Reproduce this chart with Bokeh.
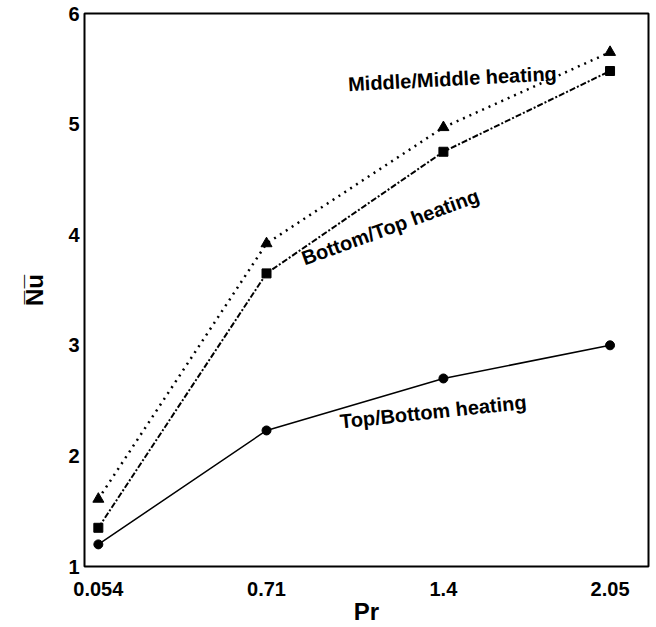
from bokeh.plotting import figure
from bokeh.models import FixedTicker, Label, Range1d
from bokeh.embed import file_html
from bokeh.resources import INLINE

# Data
pr = [0.054, 0.71, 1.4, 2.05]
pr_labels = ["0.054", "0.71", "1.4", "2.05"]
nu_top_bottom = [1.20, 2.23, 2.70, 3.00]
nu_bottom_top = [1.35, 3.65, 4.75, 5.48]
nu_middle_middle = [1.61, 3.92, 4.97, 5.65]
y_ticks = [1, 2, 3, 4, 5, 6]

FONT = "Liberation Sans"

p = figure(width=656, height=627, output_backend="svg", toolbar_location=None,
           x_range=Range1d(0, 2.2), y_range=Range1d(1, 6),
           min_border_left=84, min_border_right=8, min_border_top=13, min_border_bottom=61)

p.grid.visible = False
p.outline_line_color = "black"
p.outline_line_width = 2
p.background_fill_color = "white"
p.border_fill_color = "white"

# X axis
xa = p.xaxis[0]
xa.ticker = FixedTicker(ticks=pr)
xa.major_label_overrides = {v: s for v, s in zip(pr, pr_labels)}
xa.axis_line_color = None
xa.major_tick_line_color = None
xa.minor_tick_line_color = None
xa.major_tick_in = 0
xa.major_tick_out = 0
xa.major_label_standoff = 15
xa.major_label_text_font = FONT
xa.major_label_text_font_style = "bold"
xa.major_label_text_font_size = "20px"
xa.major_label_text_color = "black"
xa.axis_label = "Pr"
xa.axis_label_standoff = -1
xa.axis_label_text_font = FONT
xa.axis_label_text_font_style = "bold"
xa.axis_label_text_font_size = "24px"
xa.axis_label_text_color = "black"

# Y axis
ya = p.yaxis[0]
ya.ticker = FixedTicker(ticks=y_ticks)
ya.axis_line_color = None
ya.major_tick_line_color = None
ya.minor_tick_line_color = None
ya.major_tick_in = 0
ya.major_tick_out = 0
ya.major_label_standoff = 5
ya.major_label_text_font = FONT
ya.major_label_text_font_style = "bold"
ya.major_label_text_font_size = "20px"
ya.major_label_text_color = "black"
ya.axis_label = "N\u0305u\u0305"
ya.axis_label_standoff = 17
ya.axis_label_text_font = FONT
ya.axis_label_text_font_style = "bold"
ya.axis_label_text_font_size = "24px"
ya.axis_label_text_color = "black"

# Series
p.line(pr, nu_top_bottom, line_color="black", line_width=1.5)
p.scatter(pr, nu_top_bottom, marker="circle", size=9, fill_color="black", line_color="black")

p.line(pr, nu_bottom_top, line_color="black", line_width=2, line_dash="6 2 2 2")
p.scatter(pr, nu_bottom_top, marker="square", size=9, fill_color="black", line_color="black")

p.line(pr, nu_middle_middle, line_color="black", line_width=2.5, line_dash="2 5")
p.scatter(pr, nu_middle_middle, marker="triangle", size=11, fill_color="black", line_color="black")

# Curve annotations
annotations = [
    ("Middle/Middle heating", 1.435, 5.41, 3),
    ("Bottom/Top heating", 1.193, 4.07, 20),
    ("Top/Bottom heating", 1.36, 2.40, 6),
]
for txt, x, y, ang in annotations:
    p.add_layout(Label(x=x, y=y, text=txt, angle=ang, angle_units="deg",
                       text_align="center", text_baseline="middle",
                       text_font=FONT, text_font_style="bold",
                       text_font_size="20px", text_color="black"))

open("out.html", "w").write(file_html(p, INLINE))
